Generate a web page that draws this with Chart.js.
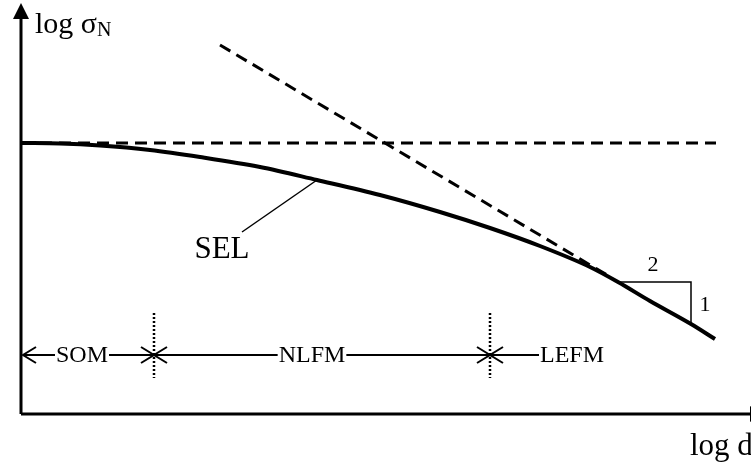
<!DOCTYPE html>
<html>
<head>
<meta charset="utf-8">
<script src="https://cdn.jsdelivr.net/npm/chart.js@4/dist/chart.umd.min.js"></script>
<style>
  html, body { margin: 0; padding: 0; background: #fff; }
  canvas { display: block; }
</style>
</head>
<body>
<canvas id="c" width="751" height="462"></canvas>
<script>
// Diagram units: x = log d, y = log σN, axes meet at (0, 0)

// Size effect law curve
const selX = [0, 0.39, 0.79, 1.29, 1.79, 2.39, 2.96, 3.59, 4.19, 4.69, 5.19, 5.69, 5.97, 6.29, 6.70, 6.94];
const selY = [2.71, 2.705, 2.685, 2.64, 2.57, 2.47, 2.34, 2.19, 2.02, 1.86, 1.68, 1.47, 1.32, 1.13, 0.90, 0.75];

// Strength criterion (horizontal asymptote)
const strengthX = [0, 6.95];
const strengthY = [2.71, 2.71];

// LEFM asymptote
const lefmX = [1.99, 5.86];
const lefmY = [3.69, 1.39];

// Slope triangle 2 : 1
const slopeX = [5.97, 6.70, 6.70];
const slopeY = [1.32, 1.32, 0.91];
const slopeLabels = ['2', '1'];
const slopeLabelX = [6.32, 6.84];
const slopeLabelY = [1.49, 1.09];

// Region boundaries and labels
const boundaryX = [1.33, 4.69];
const boundaryTop = 1.01;
const boundaryBottom = 0.36;
const regionNames = ['SOM', 'NLFM', 'LEFM'];
const regionFrom = [0.02, 1.33, 4.69];
const regionTo = [1.33, 4.69, 5.19];
const regionLabelX = [0.61, 2.91, 5.19];
const regionY = 0.59;

// SEL label with leader line
const selLabel = 'SEL';
const selLabelPos = [2.01, 1.64];
const leaderX = [2.21, 2.96];
const leaderY = [1.82, 2.34];

// Axes
const axisYTop = 3.95;
const axisXEnd = 7.29;
const axisArrow = 0.16;

const pts = (xs, ys) => xs.map((x, i) => ({ x, y: ys[i] }));
const FONT = '"Liberation Serif", "Times New Roman", serif';

const line = (data, width, dash, smooth) => ({
  data, showLine: true, borderColor: '#000', borderWidth: width,
  borderDash: dash || [], pointRadius: 0, fill: false,
  tension: smooth ? 0.4 : 0,
  cubicInterpolationMode: smooth ? 'monotone' : 'default',
  clip: false, borderCapStyle: 'butt', borderJoinStyle: 'miter'
});

const diagramPlugin = {
  id: 'diagram',
  afterDatasetsDraw(chart) {
    const { ctx, scales: { x, y } } = chart;
    const px = v => x.getPixelForValue(v);
    const py = v => y.getPixelForValue(v);
    ctx.save();
    ctx.fillStyle = '#000';
    ctx.strokeStyle = '#000';

    // axis arrowheads
    const ox = px(0), oy = py(0);
    const tipY = py(axisYTop + axisArrow);
    const baseY = py(axisYTop);
    ctx.beginPath();
    ctx.moveTo(ox, tipY);
    ctx.lineTo(ox - 8, baseY);
    ctx.lineTo(ox + 8, baseY);
    ctx.closePath();
    ctx.fill();
    const tipX = px(axisXEnd + axisArrow * 0.7);
    const baseX = px(axisXEnd);
    ctx.beginPath();
    ctx.moveTo(tipX, oy);
    ctx.lineTo(baseX, oy - 8);
    ctx.lineTo(baseX, oy + 8);
    ctx.closePath();
    ctx.fill();

    // region boundaries (dotted)
    ctx.lineWidth = 2.5;
    ctx.setLineDash([2, 2]);
    boundaryX.forEach(b => {
      ctx.beginPath();
      ctx.moveTo(px(b), py(boundaryTop));
      ctx.lineTo(px(b), py(boundaryBottom));
      ctx.stroke();
    });
    ctx.setLineDash([]);

    // region spans with open arrowheads
    const ry = py(regionY);
    const head = (xt, dir) => {
      ctx.beginPath();
      ctx.moveTo(xt + dir * 13, ry - 8);
      ctx.lineTo(xt, ry);
      ctx.lineTo(xt + dir * 13, ry + 8);
      ctx.stroke();
    };
    ctx.font = '24px ' + FONT;
    ctx.textBaseline = 'middle';
    regionNames.forEach((name, i) => {
      const a = px(regionFrom[i]), b = px(regionTo[i]);
      ctx.lineWidth = 2;
      ctx.beginPath();
      ctx.moveTo(a, ry);
      ctx.lineTo(b, ry);
      ctx.stroke();
      head(a, 1);
      if (i < regionNames.length - 1) head(b, -1);
      const w = ctx.measureText(name).width;
      const lx = px(regionLabelX[i]);
      const left = i === regionNames.length - 1 ? lx : lx - w / 2;
      ctx.fillStyle = '#fff';
      ctx.fillRect(left - 1, ry - 13, w + 2, 26);
      ctx.fillStyle = '#000';
      ctx.textAlign = 'left';
      ctx.fillText(name, left, ry + 1);
    });

    // slope labels
    ctx.font = '22px ' + FONT;
    ctx.textAlign = 'center';
    slopeLabels.forEach((t, i) => ctx.fillText(t, px(slopeLabelX[i]), py(slopeLabelY[i])));

    // SEL label
    ctx.font = '31px ' + FONT;
    ctx.fillText(selLabel, px(selLabelPos[0]), py(selLabelPos[1]));

    // axis titles
    ctx.textAlign = 'left';
    ctx.textBaseline = 'alphabetic';
    ctx.font = '30px ' + FONT;
    const tx = px(0.14), tb = py(3.81);
    ctx.fillText('log σ', tx, tb);
    const tw = ctx.measureText('log σ').width;
    ctx.font = '20px ' + FONT;
    ctx.fillText('N', tx + tw, tb + 3);
    ctx.font = '31px ' + FONT;
    ctx.fillText('log d', px(6.69), py(-0.41));

    ctx.restore();
  }
};

new Chart(document.getElementById('c'), {
  type: 'scatter',
  data: {
    datasets: [
      line(pts(strengthX, strengthY), 3, [12, 7]),
      line(pts(lefmX, lefmY), 3, [12, 7]),
      line(pts(selX, selY), 4, null, true),
      line(pts(slopeX, slopeY), 1.5),
      line(pts(leaderX, leaderY), 1.5),
      line([{ x: 0, y: 0 }, { x: 0, y: axisYTop }], 3),
      line([{ x: 0, y: 0 }, { x: axisXEnd, y: 0 }], 3)
    ]
  },
  options: {
    responsive: false,
    animation: false,
    devicePixelRatio: 1,
    layout: { padding: 0 },
    plugins: { legend: { display: false }, tooltip: { enabled: false } },
    scales: {
      x: { type: 'linear', display: false, min: -0.21, max: 7.30 },
      y: { type: 'linear', display: false, min: -0.48, max: 4.14 }
    }
  },
  plugins: [diagramPlugin]
});
</script>
</body>
</html>
